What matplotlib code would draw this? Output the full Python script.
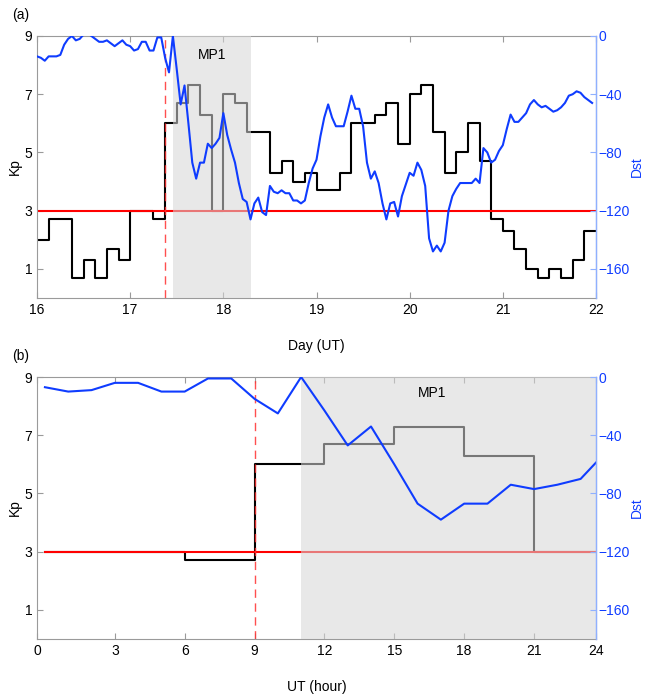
import numpy as np
import matplotlib.pyplot as plt
from matplotlib.patches import Rectangle

plt.rcParams["font.family"] = ["Liberation Sans", "DejaVu Sans"]
plt.rcParams["font.size"] = 10

# 3-hourly Kp, 16-21 (one row per day)
kp_3h = [
    2.0, 2.7, 2.7, 0.7, 1.3, 0.7, 1.7, 1.3,
    3.0, 3.0, 2.7, 6.0, 6.7, 7.3, 6.3, 3.0,
    7.0, 6.7, 5.7, 5.7, 4.3, 4.7, 4.0, 4.3,
    3.7, 3.7, 4.3, 6.0, 6.0, 6.3, 6.7, 5.3,
    7.0, 7.3, 5.7, 4.3, 5.0, 6.0, 4.7, 2.7,
    2.3, 1.7, 1.0, 0.7, 1.0, 0.7, 1.3, 2.3,
]

# hourly Dst (nT), 16-21
dst_16 = [-14, -15, -17, -14, -14, -14, -13, -6, -2, 0, -3, -2, 1, 2, 0, -2, -4, -4, -3, -5, -7, -5, -3, -6]
dst_17 = [-7, -10, -9, -4, -4, -10, -10, -1, -1, -15, -25, 0, -23, -47, -34, -60, -87, -98, -87, -87, -74, -77, -74, -70]
dst_18 = [-53, -68, -78, -87, -101, -112, -114, -126, -115, -111, -121, -123, -103, -107, -108, -106, -108, -108, -113, -113, -115, -113, -101, -91]
dst_19 = [-85, -69, -56, -47, -56, -62, -62, -62, -52, -41, -50, -50, -62, -87, -98, -93, -101, -115, -126, -115, -114, -124, -110, -102]
dst_20 = [-94, -96, -87, -92, -103, -139, -148, -144, -148, -142, -120, -110, -105, -101, -101, -101, -101, -98, -101, -77, -80, -87, -85, -79]
dst_21 = [-75, -64, -54, -59, -59, -56, -53, -47, -44, -47, -49, -48, -50, -52, -51, -49, -46, -41, -40, -38, -39, -42, -44, -46]
dst_hourly = dst_16 + dst_17 + dst_18 + dst_19 + dst_20 + dst_21

kp_threshold = 3
onset_day = 17.375          # 09 UT on the 17th
mp1_start, mp1_end = 17 + 11 / 24, 18 + 7 / 24

# zoomed day (17th), hours
hour_ticks = [3, 6, 9, 12, 15, 18, 21]
hour_lo, hour_hi = -0.34, 23.66
onset_hour = 9
mp1_hour_start = 11

spine_grey = "#9a9a9a"
dst_blue = "#0f3cff"
dst_axis_blue = "#8fb0ff"
shade = (0.84, 0.84, 0.84)


def style_axes(ax, ax2):
    for s in ax.spines.values():
        s.set_color(spine_grey)
        s.set_linewidth(0.8)
    ax.tick_params(direction="in", top=True, colors=spine_grey, labelcolor="black", length=4)
    ax.set_ylim(0, 9)
    ax.set_yticks([1, 3, 5, 7, 9])
    ax.set_ylabel("Kp", labelpad=2)

    for name, s in ax2.spines.items():
        s.set_visible(name == "right")
    ax2.spines["right"].set_color(dst_axis_blue)
    ax2.spines["right"].set_linewidth(1.0)
    ax2.tick_params(direction="in", colors=dst_axis_blue, labelcolor=dst_blue, length=4, pad=2)
    ax2.set_ylim(-180, 0)
    ax2.set_yticks([-160, -120, -80, -40, 0])
    ax2.set_ylabel("Dst", color=dst_blue, labelpad=0)


fig = plt.figure(figsize=(6.46, 6.96), dpi=100)

# (a) full interval
ax = fig.add_axes([0.0573, 0.5718, 0.8653, 0.3765])
t_kp = 16 + 0.125 * np.arange(len(kp_3h))
ax.step(np.append(t_kp, 22), np.append(kp_3h, kp_3h[-1]), where="post", color="black", lw=1.5)
ax.axhline(kp_threshold, color="red", lw=1.5)
ax.axvline(onset_day, color="#ff3030", lw=1, ls=(0, (6, 4)), alpha=0.85)
ax.add_patch(Rectangle((mp1_start, 0), mp1_end - mp1_start, 9, color=shade, alpha=0.56, lw=0, zorder=3))
ax.text((mp1_start + mp1_end) / 2, 8.35, "MP1", ha="center", va="center", zorder=4)
ax.set_xlim(16, 22)
ax.set_xticks(np.arange(16, 23))
ax.set_xlabel("Day (UT)", labelpad=16)

ax2 = ax.twinx()
t_dst = 16 + np.arange(len(dst_hourly)) / 24
ax2.plot(t_dst, dst_hourly, color=dst_blue, lw=1.5)
style_axes(ax, ax2)
fig.text(0.018, 0.978, "(a)", ha="left", va="center")

# (b) storm day, hourly
bx = fig.add_axes([0.0573, 0.0819, 0.8653, 0.3764])
kp_day = kp_3h[8:16]
h_kp = np.arange(0, 25, 3)
bx.step(h_kp, np.append(kp_day, kp_day[-1]), where="post", color="black", lw=1.5)
bx.axhline(kp_threshold, xmin=(0 - hour_lo) / (hour_hi - hour_lo), color="red", lw=1.5)
bx.axvline(onset_hour, color="#ff3030", lw=1, ls=(0, (6, 4)), alpha=0.85)
bx.add_patch(Rectangle((mp1_hour_start, 0), 24 - mp1_hour_start, 9, color=shade, alpha=0.56, lw=0, zorder=3))
bx.text(16.6, 8.45, "MP1", ha="center", va="center", zorder=4)
bx.set_xlim(hour_lo, hour_hi)
bx.set_xticks([hour_lo] + hour_ticks + [hour_hi])
bx.set_xticklabels(["0"] + [str(h) for h in hour_ticks] + ["24"])
bx.set_xlabel("UT (hour)", labelpad=16)

bx2 = bx.twinx()
dst_day = dst_17 + dst_18[:1]
bx2.plot(np.arange(len(dst_day)), dst_day, color=dst_blue, lw=1.5)
style_axes(bx, bx2)
fig.text(0.018, 0.489, "(b)", ha="left", va="center")

plt.savefig("out.png", dpi=100)
plt.close()
